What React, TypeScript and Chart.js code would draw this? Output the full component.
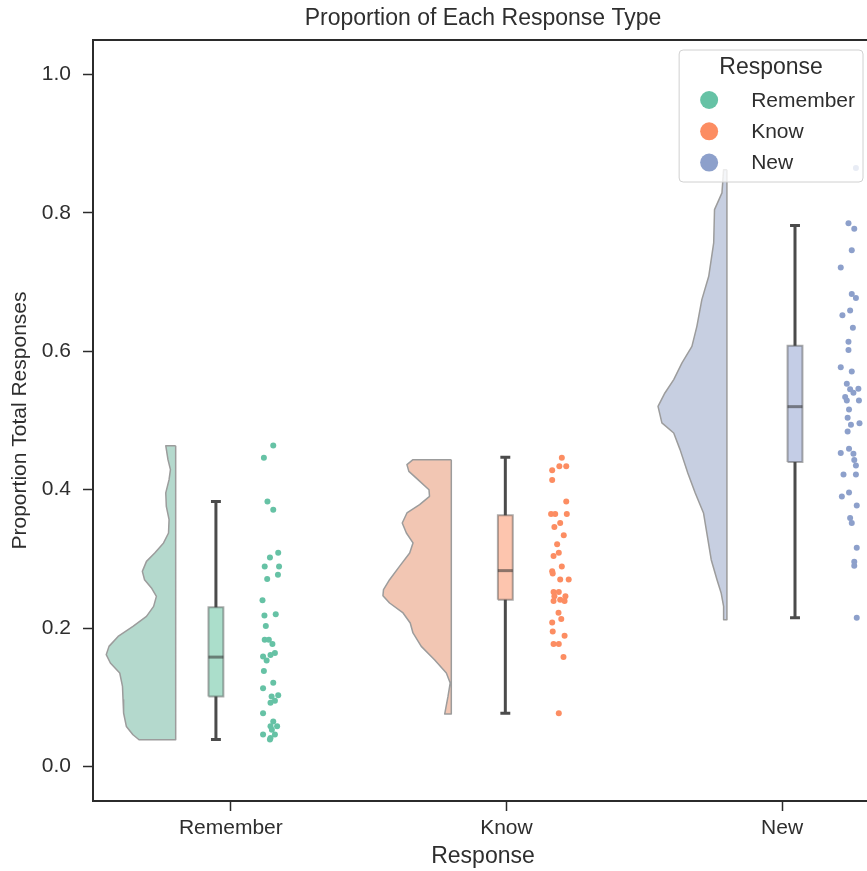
import React, { useEffect, useRef } from "react";
import { Chart, registerables } from "chart.js";

Chart.register(...registerables);

// ---------- data ----------
const categories = ["Remember", "Know", "New"];
const pointColors = ["#66c2a5", "#fc8d62", "#8da0cb"];
const violinColors = ["#b4d9cd", "#f2c6b3", "#c7cfe1"];
const boxColors = ["#abdecb", "#fdc5ae", "#c4cde6"];
const yTicks = [0, 0.2, 0.4, 0.6, 0.8, 1.0];

const rememberValues = [0.464, 0.446, 0.383, 0.371, 0.309, 0.302, 0.289, 0.289, 0.277, 0.271, 0.24, 0.22, 0.218, 0.203, 0.183, 0.183, 0.177, 0.164, 0.161, 0.159, 0.153, 0.138, 0.121, 0.113, 0.103, 0.101, 0.092, 0.095, 0.077, 0.065, 0.058, 0.058, 0.046, 0.046, 0.041, 0.053, 0.039];
const rememberJitter = [0.154, 0.12, 0.133, 0.154, 0.172, 0.142, 0.123, 0.175, 0.171, 0.132, 0.115, 0.163, 0.122, 0.127, 0.123, 0.138, 0.151, 0.16, 0.144, 0.117, 0.13, 0.12, 0.154, 0.117, 0.172, 0.148, 0.144, 0.16, 0.117, 0.154, 0.168, 0.144, 0.117, 0.16, 0.144, 0.149, 0.142];

const knowValues = [0.446, 0.434, 0.434, 0.428, 0.414, 0.383, 0.365, 0.365, 0.365, 0.352, 0.346, 0.334, 0.321, 0.309, 0.304, 0.289, 0.282, 0.279, 0.27, 0.27, 0.252, 0.252, 0.246, 0.246, 0.241, 0.239, 0.239, 0.222, 0.213, 0.208, 0.195, 0.189, 0.177, 0.177, 0.158, 0.077];
const knowJitter = [0.201, 0.192, 0.217, 0.166, 0.166, 0.217, 0.162, 0.177, 0.219, 0.195, 0.174, 0.208, 0.184, 0.19, 0.171, 0.201, 0.166, 0.168, 0.195, 0.226, 0.171, 0.19, 0.174, 0.214, 0.195, 0.171, 0.211, 0.189, 0.199, 0.166, 0.168, 0.211, 0.171, 0.19, 0.207, 0.19];

const newValues = [0.865, 0.785, 0.777, 0.746, 0.721, 0.683, 0.677, 0.659, 0.652, 0.634, 0.614, 0.602, 0.577, 0.571, 0.553, 0.545, 0.546, 0.54, 0.534, 0.529, 0.529, 0.516, 0.504, 0.496, 0.494, 0.484, 0.453, 0.459, 0.452, 0.443, 0.435, 0.422, 0.422, 0.39, 0.396, 0.377, 0.359, 0.352, 0.316, 0.296, 0.29, 0.215];
const newJitter = [0.268, 0.241, 0.262, 0.253, 0.213, 0.253, 0.268, 0.247, 0.219, 0.257, 0.241, 0.241, 0.213, 0.253, 0.235, 0.247, 0.277, 0.259, 0.229, 0.235, 0.279, 0.243, 0.238, 0.281, 0.25, 0.238, 0.213, 0.243, 0.259, 0.262, 0.268, 0.223, 0.268, 0.217, 0.243, 0.271, 0.247, 0.253, 0.271, 0.262, 0.262, 0.271];

// half-violin density profiles (value level, half width in category units)
const rememberViolinY = [0.4636, 0.4434, 0.429, 0.4145, 0.3953, 0.3759, 0.3567, 0.3374, 0.323, 0.3085, 0.2964, 0.2819, 0.2699, 0.2579, 0.2458, 0.2313, 0.2169, 0.2024, 0.1879, 0.1735, 0.1615, 0.1495, 0.135, 0.1157, 0.0964, 0.0772, 0.0578, 0.0458, 0.0386];
const rememberViolinW = [0.036, 0.028, 0.019, 0.024, 0.036, 0.034, 0.024, 0.026, 0.044, 0.076, 0.106, 0.121, 0.113, 0.088, 0.07, 0.08, 0.106, 0.155, 0.209, 0.242, 0.252, 0.237, 0.203, 0.193, 0.191, 0.189, 0.179, 0.155, 0.133];
const knowViolinY = [0.4434, 0.4362, 0.4265, 0.4145, 0.4, 0.3903, 0.3783, 0.3663, 0.3519, 0.3374, 0.323, 0.3085, 0.2891, 0.2699, 0.2555, 0.2468, 0.2362, 0.2218, 0.2073, 0.1929, 0.1735, 0.1543, 0.135, 0.1206, 0.1012, 0.0757];
const knowViolinW = [0.139, 0.161, 0.154, 0.121, 0.081, 0.079, 0.115, 0.161, 0.178, 0.163, 0.139, 0.151, 0.188, 0.224, 0.246, 0.248, 0.224, 0.175, 0.149, 0.139, 0.109, 0.061, 0.018, 0.004, 0.012, 0.024];
const newViolinY = [0.8626, 0.829, 0.8048, 0.7567, 0.7084, 0.6747, 0.6361, 0.6072, 0.5832, 0.5591, 0.5398, 0.5205, 0.4965, 0.482, 0.4579, 0.4242, 0.3953, 0.3663, 0.3374, 0.2988, 0.2699, 0.2507, 0.2313, 0.2121];
const newViolinW = [0.012, 0.018, 0.045, 0.048, 0.066, 0.091, 0.109, 0.127, 0.163, 0.193, 0.225, 0.25, 0.236, 0.193, 0.17, 0.142, 0.115, 0.085, 0.073, 0.057, 0.036, 0.021, 0.012, 0.012];

// box plot statistics
const boxQ1 = [0.101, 0.241, 0.44];
const boxMedian = [0.158, 0.283, 0.52];
const boxQ3 = [0.23, 0.363, 0.608];
const whiskerLow = [0.039, 0.077, 0.215];
const whiskerHigh = [0.383, 0.447, 0.782];

// category-unit offsets of the three layers
const violinOffset = -0.2;
const boxOffsets = [-0.054, -0.004, 0.047];
const boxHalf = 0.027;
const capHalf = 0.018;

const pointValues = [rememberValues, knowValues, newValues];
const pointJitter = [rememberJitter, knowJitter, newJitter];
const violinY = [rememberViolinY, knowViolinY, newViolinY];
const violinW = [rememberViolinW, knowViolinW, newViolinW];

const FONT = '"Liberation Sans", Arial, sans-serif';
const TEXT = "#2e2e2e";

function buildDatasets() {
  const ds: any[] = [];
  categories.forEach((_, i) => {
    const flat = i + violinOffset;
    const vy = violinY[i];
    const vw = violinW[i];
    const vPts = [
      { x: flat, y: vy[0] },
      ...vy.map((y, k) => ({ x: flat - vw[k], y })),
      { x: flat, y: vy[vy.length - 1] },
      { x: flat, y: vy[0] },
    ];
    ds.push({
      type: "line",
      data: vPts,
      fill: "shape",
      backgroundColor: violinColors[i],
      borderColor: "#9c9c9c",
      borderWidth: 1.5,
      borderJoinStyle: "round",
      pointRadius: 0,
      tension: 0,
      order: 6,
    });
    const bx = i + boxOffsets[i];
    ds.push({
      type: "line",
      data: [
        { x: bx - capHalf, y: whiskerLow[i] },
        { x: bx + capHalf, y: whiskerLow[i] },
        { x: bx, y: whiskerLow[i] },
        { x: bx, y: whiskerHigh[i] },
        { x: bx - capHalf, y: whiskerHigh[i] },
        { x: bx + capHalf, y: whiskerHigh[i] },
      ],
      fill: false,
      borderColor: "#4b4b4b",
      borderWidth: 3,
      pointRadius: 0,
      tension: 0,
      order: 5,
    });
    ds.push({
      type: "line",
      data: [
        { x: bx - boxHalf, y: boxQ1[i] },
        { x: bx + boxHalf, y: boxQ1[i] },
        { x: bx + boxHalf, y: boxQ3[i] },
        { x: bx - boxHalf, y: boxQ3[i] },
        { x: bx - boxHalf, y: boxQ1[i] },
      ],
      fill: "shape",
      backgroundColor: boxColors[i],
      borderColor: "rgba(70,70,70,0.45)",
      borderWidth: 2,
      pointRadius: 0,
      tension: 0,
      order: 4,
    });
    ds.push({
      type: "line",
      data: [
        { x: bx - boxHalf, y: boxMedian[i] },
        { x: bx + boxHalf, y: boxMedian[i] },
      ],
      fill: false,
      borderColor: "rgba(50,50,50,0.55)",
      borderWidth: 3,
      pointRadius: 0,
      order: 3,
    });
    ds.push({
      type: "scatter",
      data: pointValues[i].map((v, k) => ({ x: i + pointJitter[i][k], y: v })),
      backgroundColor: pointColors[i],
      borderWidth: 0,
      pointRadius: 3,
      order: 1,
    });
  });
  return ds;
}

const framePlugin = {
  id: "frame",
  afterDatasetsDraw(chart: any) {
    const { ctx, chartArea: a } = chart;
    ctx.save();
    ctx.strokeStyle = "#2b2b2b";
    ctx.lineWidth = 2;
    ctx.strokeRect(a.left, a.top, a.right - a.left, a.bottom - a.top);
    ctx.restore();
  },
};

const legendPlugin = {
  id: "rcLegend",
  afterDraw(chart: any) {
    const { ctx, chartArea: a } = chart;
    ctx.save();
    const right = a.right - 10;
    const top = a.top + 10;
    ctx.font = `21px ${FONT}`;
    const maxW = Math.max(...categories.map((c) => ctx.measureText(c).width));
    const labelX = right - 8 - maxW;
    const circleX = labelX - 42;
    const left = circleX - 30;
    const bottom = top + 132;
    const r = 4;
    ctx.beginPath();
    ctx.moveTo(left + r, top);
    ctx.lineTo(right - r, top);
    ctx.quadraticCurveTo(right, top, right, top + r);
    ctx.lineTo(right, bottom - r);
    ctx.quadraticCurveTo(right, bottom, right - r, bottom);
    ctx.lineTo(left + r, bottom);
    ctx.quadraticCurveTo(left, bottom, left, bottom - r);
    ctx.lineTo(left, top + r);
    ctx.quadraticCurveTo(left, top, left + r, top);
    ctx.closePath();
    ctx.fillStyle = "rgba(255,255,255,0.8)";
    ctx.fill();
    ctx.strokeStyle = "#d0d0d0";
    ctx.lineWidth = 1;
    ctx.stroke();

    ctx.fillStyle = TEXT;
    ctx.textBaseline = "middle";
    ctx.textAlign = "center";
    ctx.font = `23px ${FONT}`;
    ctx.fillText("Response", (left + right) / 2, top + 18);

    ctx.font = `21px ${FONT}`;
    ctx.textAlign = "left";
    categories.forEach((c, i) => {
      const y = top + 50 + i * 31.3;
      ctx.beginPath();
      ctx.arc(circleX, y, 9, 0, Math.PI * 2);
      ctx.fillStyle = pointColors[i];
      ctx.fill();
      ctx.fillStyle = TEXT;
      ctx.fillText(c, labelX, y + 1);
    });
    ctx.restore();
  },
};

export default function App() {
  const ref = useRef<HTMLCanvasElement>(null);
  useEffect(() => {
    if (!ref.current) return;
    Chart.defaults.font.family = FONT;
    Chart.defaults.color = TEXT;
    const chart = new Chart(ref.current, {
      type: "scatter",
      data: { datasets: buildDatasets() },
      options: {
        responsive: false,
        animation: false,
        devicePixelRatio: 1,
        events: [],
        layout: { padding: { left: 0, right: 7, top: 0, bottom: 0 } },
        plugins: {
          legend: { display: false },
          tooltip: { enabled: false },
          title: {
            display: true,
            text: "Proportion of Each Response Type",
            fullSize: false,
            color: TEXT,
            font: { size: 23, weight: "normal" },
            padding: { top: 5, bottom: 7.4 },
          },
        },
        scales: {
          x: {
            type: "linear",
            min: -0.5,
            max: 2.33,
            afterBuildTicks: (s: any) => {
              s.ticks = categories.map((_, i) => ({ value: i }));
            },
            afterFit: (s: any) => {
              s.height = 70;
            },
            ticks: {
              callback: (v: any) => categories[v] ?? "",
              font: { size: 21 },
              color: TEXT,
              padding: 5,
              maxRotation: 0,
              autoSkip: false,
            },
            grid: { drawOnChartArea: false, drawTicks: true, tickLength: 10, tickColor: "#2b2b2b", tickWidth: 1.5 },
            border: { display: false },
            title: { display: true, text: "Response", font: { size: 23 }, color: TEXT, padding: { top: 0, bottom: 1 } },
          },
          y: {
            type: "linear",
            min: -0.05,
            max: 1.05,
            afterBuildTicks: (s: any) => {
              s.ticks = yTicks.map((v) => ({ value: v }));
            },
            afterFit: (s: any) => {
              s.width = 93;
            },
            ticks: {
              callback: (v: any) => Number(v).toFixed(1),
              font: { size: 21 },
              color: TEXT,
              padding: 12,
            },
            grid: { drawOnChartArea: false, drawTicks: true, tickLength: 10, tickColor: "#2b2b2b", tickWidth: 1.5 },
            border: { display: false },
            title: {
              display: true,
              text: "Proportion Total Responses",
              font: { size: 21 },
              color: TEXT,
              padding: { top: 8, bottom: 0 },
            },
          },
        },
      } as any,
      plugins: [framePlugin, legendPlugin],
    });
    return () => chart.destroy();
  }, []);

  return (
    <div style={{ position: "fixed", left: 0, top: 0, width: 867, height: 871, overflow: "hidden", background: "#fff" }}>
      <canvas ref={ref} width={880} height={871} style={{ display: "block", width: 880, height: 871 }} />
    </div>
  );
}
